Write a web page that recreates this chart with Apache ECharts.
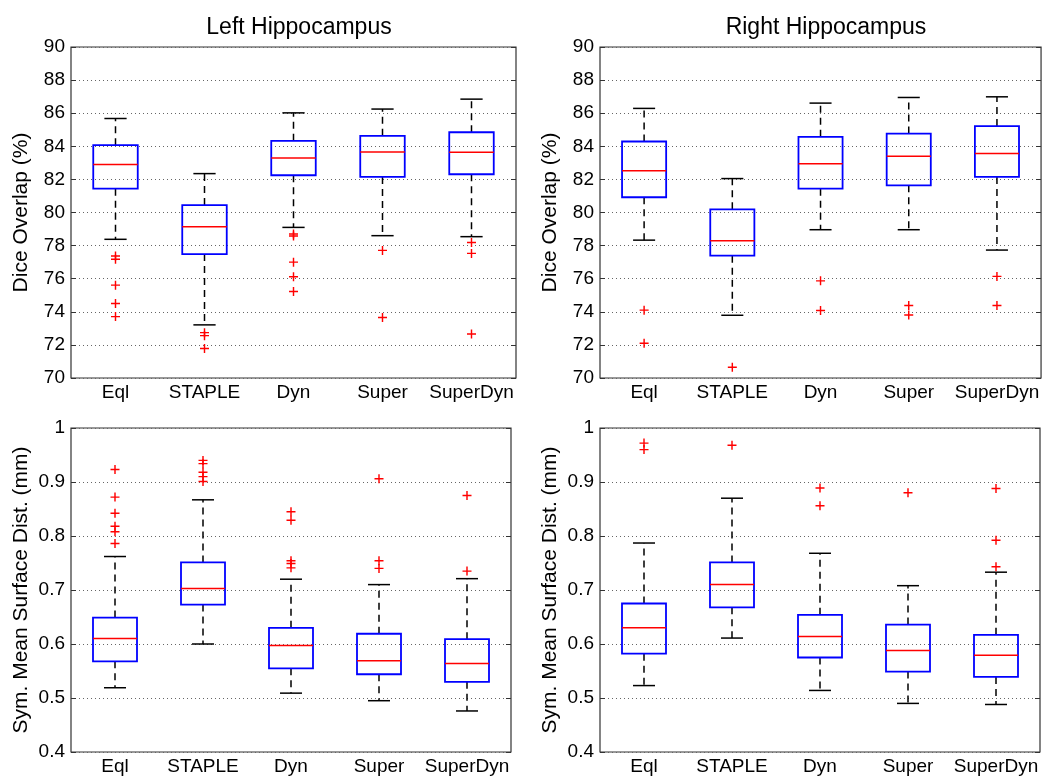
<!DOCTYPE html>
<html>
<head>
<meta charset="utf-8">
<script src="https://cdn.jsdelivr.net/npm/echarts@6/dist/echarts.min.js"></script>
<style>
  html, body { margin: 0; padding: 0; background: #fff; }
  #main { width: 1042px; height: 776px; }
</style>
</head>
<body>
<div id="main"></div>
<script>
var categories = ['Eql', 'STAPLE', 'Dyn', 'Super', 'SuperDyn'];

// [lower whisker, Q1, median, Q3, upper whisker]
var leftDiceBox = [[78.38, 81.44, 82.90, 84.07, 85.68], [73.21, 77.49, 79.14, 80.45, 82.35],
    [79.10, 82.25, 83.30, 84.33, 86.02], [78.60, 82.15, 83.66, 84.63, 86.25], [78.54, 82.31, 83.64, 84.85, 86.85]];
var leftDiceOut = [[0, 77.37], [0, 77.17], [0, 75.61], [0, 74.5], [0, 73.71],
    [1, 72.74], [1, 72.56], [1, 71.78],
    [2, 78.70], [2, 78.58], [2, 77.0], [2, 76.12], [2, 75.23],
    [3, 77.71], [3, 73.65],
    [4, 78.19], [4, 77.53], [4, 72.66]];

var rightDiceBox = [[78.33, 80.92, 82.53, 84.29, 86.29], [73.79, 77.39, 78.29, 80.19, 82.05],
    [78.96, 81.44, 82.94, 84.57, 86.61], [78.96, 81.64, 83.40, 84.77, 86.95], [77.73, 82.15, 83.56, 85.22, 86.99]];
var rightDiceOut = [[0, 74.10], [0, 72.10], [1, 70.65], [2, 75.87], [2, 74.08],
    [3, 74.38], [3, 73.81], [4, 76.14], [4, 74.38]];

var leftDistBox = [[0.519, 0.568, 0.610, 0.649, 0.762], [0.600, 0.673, 0.703, 0.751, 0.867],
    [0.509, 0.555, 0.597, 0.630, 0.720], [0.495, 0.544, 0.569, 0.619, 0.710], [0.476, 0.530, 0.564, 0.609, 0.721]];
var leftDistOut = [[0, 0.923], [0, 0.872], [0, 0.842], [0, 0.818], [0, 0.808], [0, 0.786],
    [1, 0.940], [1, 0.934], [1, 0.918], [1, 0.910], [1, 0.901],
    [2, 0.845], [2, 0.829], [2, 0.754], [2, 0.749], [2, 0.741],
    [3, 0.906], [3, 0.754], [3, 0.740],
    [4, 0.875], [4, 0.735]];

var rightDistBox = [[0.523, 0.582, 0.630, 0.675, 0.787], [0.611, 0.668, 0.710, 0.751, 0.870],
    [0.514, 0.575, 0.614, 0.654, 0.768], [0.490, 0.549, 0.588, 0.636, 0.708], [0.488, 0.539, 0.579, 0.617, 0.733]];
var rightDistOut = [[0, 0.972], [0, 0.960], [1, 0.968], [2, 0.889], [2, 0.856],
    [3, 0.880], [4, 0.888], [4, 0.792], [4, 0.743]];

var panels = [
    {box: leftDiceBox, out: leftDiceOut, min: 70, max: 90, step: 2, name: 'Dice Overlap (%)'},
    {box: rightDiceBox, out: rightDiceOut, min: 70, max: 90, step: 2, name: 'Dice Overlap (%)'},
    {box: leftDistBox, out: leftDistOut, min: 0.4, max: 1, step: 0.1, name: 'Sym. Mean Surface Dist. (mm)'},
    {box: rightDistBox, out: rightDistOut, min: 0.4, max: 1, step: 0.1, name: 'Sym. Mean Surface Dist. (mm)'}
];

var FONT = 'Liberation Sans, Arial, sans-serif';
var grids = [
    {left: 71, top: 47, width: 445, height: 331},
    {left: 600, top: 47, width: 443, height: 331},
    {left: 71, top: 428, width: 440, height: 326},
    {left: 600, top: 428, width: 440, height: 326}
];

function renderBox(params, api) {
    var x = api.value(0);
    var lo = api.coord([x, api.value(1)]);
    var q1 = api.coord([x, api.value(2)]);
    var md = api.coord([x, api.value(3)]);
    var q3 = api.coord([x, api.value(4)]);
    var hi = api.coord([x, api.value(5)]);
    var band = api.size([1, 0])[0];
    var hb = band * 0.25;
    var hc = band * 0.125;
    var cx = lo[0];
    var dash = {stroke: '#000', lineWidth: 1.5, lineDash: [7, 5]};
    var solid = {stroke: '#000', lineWidth: 1.5};
    return {
        type: 'group',
        children: [
            {type: 'line', shape: {x1: cx, y1: q3[1], x2: cx, y2: hi[1]}, style: dash},
            {type: 'line', shape: {x1: cx, y1: q1[1], x2: cx, y2: lo[1]}, style: dash},
            {type: 'line', shape: {x1: cx - hc, y1: hi[1], x2: cx + hc, y2: hi[1]}, style: solid},
            {type: 'line', shape: {x1: cx - hc, y1: lo[1], x2: cx + hc, y2: lo[1]}, style: solid},
            {type: 'rect', shape: {x: cx - hb, y: q3[1], width: hb * 2, height: q1[1] - q3[1]},
                style: {fill: 'none', stroke: '#0000ff', lineWidth: 1.8}},
            {type: 'line', shape: {x1: cx - hb, y1: md[1], x2: cx + hb, y2: md[1]},
                style: {stroke: '#ff0000', lineWidth: 1.5}}
        ]
    };
}

var xAxes = [], yAxes = [], series = [];
panels.forEach(function (p, i) {
    xAxes.push({
        type: 'category', gridIndex: i, data: categories,
        axisLine: {show: false}, axisTick: {show: false},
        axisLabel: {color: '#000', fontSize: 19, fontFamily: FONT, margin: 5, interval: 0, hideOverlap: false}
    });
    yAxes.push({
        type: 'value', gridIndex: i, min: p.min, max: p.max, interval: p.step,
        name: p.name, nameLocation: 'middle', nameGap: 39,
        nameTextStyle: {color: '#000', fontSize: 21, fontFamily: FONT},
        axisLine: {show: false},
        axisTick: {show: true, inside: true, length: 5, lineStyle: {color: '#333'}},
        axisLabel: {color: '#000', fontSize: 19, fontFamily: FONT, margin: 6},
        splitLine: {show: true, lineStyle: {color: '#666', type: [1, 3], width: 1}}
    });
    yAxes.push({
        type: 'value', gridIndex: i, position: 'right', min: p.min, max: p.max, interval: p.step,
        axisLine: {show: false},
        axisTick: {show: true, inside: true, length: 5, lineStyle: {color: '#333'}},
        axisLabel: {show: false}, splitLine: {show: false}
    });
    series.push({
        type: 'custom', xAxisIndex: i, yAxisIndex: i * 2,
        renderItem: renderBox,
        encode: {x: 0, y: [1, 2, 3, 4, 5]},
        data: p.box.map(function (b, k) { return [k].concat(b); }),
        z: 3
    });
    series.push({
        type: 'scatter', xAxisIndex: i, yAxisIndex: i * 2,
        symbol: 'path://M4.2,0H5.8V4.2H10V5.8H5.8V10H4.2V5.8H0V4.2H4.2Z',
        symbolSize: 9,
        itemStyle: {color: '#ff0000', opacity: 1},
        data: p.out,
        z: 4
    });
});

var myChart = echarts.init(document.getElementById('main'));
var option = {
    animation: false,
    backgroundColor: '#fff',
    title: [
        {text: 'Left Hippocampus', left: 294, top: 11, textAlign: 'center',
            textStyle: {color: '#000', fontSize: 23, fontWeight: 'normal', fontFamily: FONT}},
        {text: 'Right Hippocampus', left: 821, top: 11, textAlign: 'center',
            textStyle: {color: '#000', fontSize: 23, fontWeight: 'normal', fontFamily: FONT}}
    ],
    grid: grids.map(function (g) {
        return {left: g.left, top: g.top, width: g.width, height: g.height,
            show: true, borderColor: '#333', borderWidth: 1.2, backgroundColor: 'transparent'};
    }),
    xAxis: xAxes,
    yAxis: yAxes,
    series: series
};
myChart.setOption(option);
</script>
</body>
</html>
